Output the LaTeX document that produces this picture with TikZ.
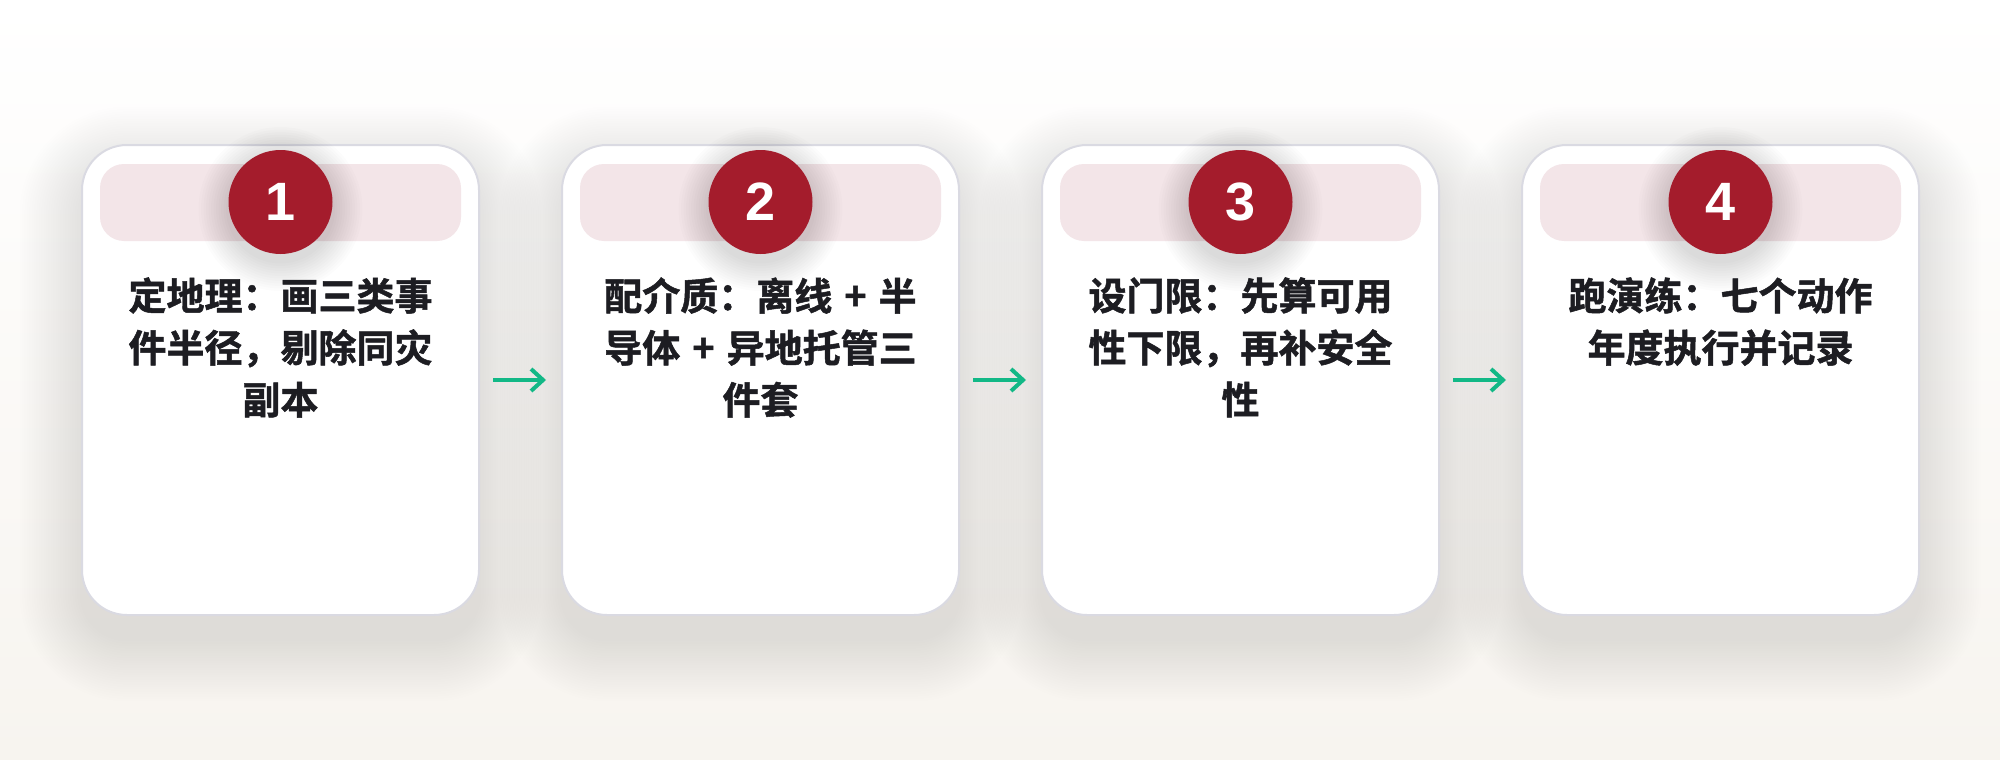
\documentclass[tikz,border=0pt]{standalone}
\usepackage{fontspec}
\newfontfamily\cjk{Noto Sans CJK SC}[BoldFont={Noto Sans CJK SC Bold},BoldFeatures={FakeBold=1.3}]
\newfontfamily\digits{Liberation Sans}
\usetikzlibrary{arrows.meta}
\usetikzlibrary{positioning}
\definecolor{bgtop}{HTML}{FFFFFF}
\definecolor{bgbot}{HTML}{F7F4EF}
\definecolor{cardline}{HTML}{DADAE2}
\definecolor{bandpink}{HTML}{F3E5E8}
\definecolor{badgered}{HTML}{A41C2C}
\definecolor{ink}{HTML}{1D1D22}
\definecolor{flowgreen}{HTML}{12B886}

\begin{document}
\begin{tikzpicture}[x=1pt,y=-1pt,
  card/.style={draw=cardline,line width=2pt,fill=white,rounded corners=45pt,minimum width=397pt,minimum height=470pt,inner sep=0pt},
  band/.style={fill=bandpink,rounded corners=24pt,minimum width=361pt,minimum height=77pt,inner sep=0pt},
  badge/.style={circle,fill=badgered,minimum size=104pt,inner sep=0pt,text=white,font=\digits\bfseries\fontsize{54}{54}\selectfont},
  steptext/.style={align=center,inner sep=0pt,text=ink,font=\cjk\bfseries\fontsize{38}{52}\selectfont},
  flow/.style={draw=flowgreen,line width=4pt,-{Straight Barb[length=12pt,width=22pt]},shorten <=13pt,shorten >=15pt}]
\useasboundingbox (0,0) rectangle (2000,760);
\shade[top color=bgtop,bottom color=bgbot] (0,0) rectangle (2000,760);
\foreach \n/\cx/\txt in {1/280.5/{定地理：画三类事\\件半径，剔除同灾\\副本},
                         2/760.5/{配介质：离线\hspace{12pt}+\hspace{12pt}半\\导体\hspace{12pt}+\hspace{12pt}异地托管三\\件套},
                         3/1240.5/{设门限：先算可用\\性下限，再补安全\\性},
                         4/1720.5/{跑演练：七个动作\\年度执行并记录}} {
  \foreach \k in {1,...,26}
    \fill[black,opacity=.004,rounded corners={45+2.4*\k}] ({\cx-198.5-2.4*\k},{169-2.4*\k}) rectangle ({\cx+198.5+2.4*\k},{639+2.4*\k});
  \node[card] (c\n) at (\cx,380) {};
  \node[band] (s\n) at (\cx,202.5) {};
  \foreach \k in {1,...,12}
    \fill[black,opacity=.01] (\cx,209) circle ({52+2.5*\k});
  \node[badge] (b\n) at (\cx,202) {\n};
  \node[steptext,below=23pt of b\n] (t\n) {\txt};
}
\foreach \a/\b in {1/2,2/3,3/4}
  \draw[flow] (c\a.east) -- (c\b.west);
\end{tikzpicture}
\end{document}
